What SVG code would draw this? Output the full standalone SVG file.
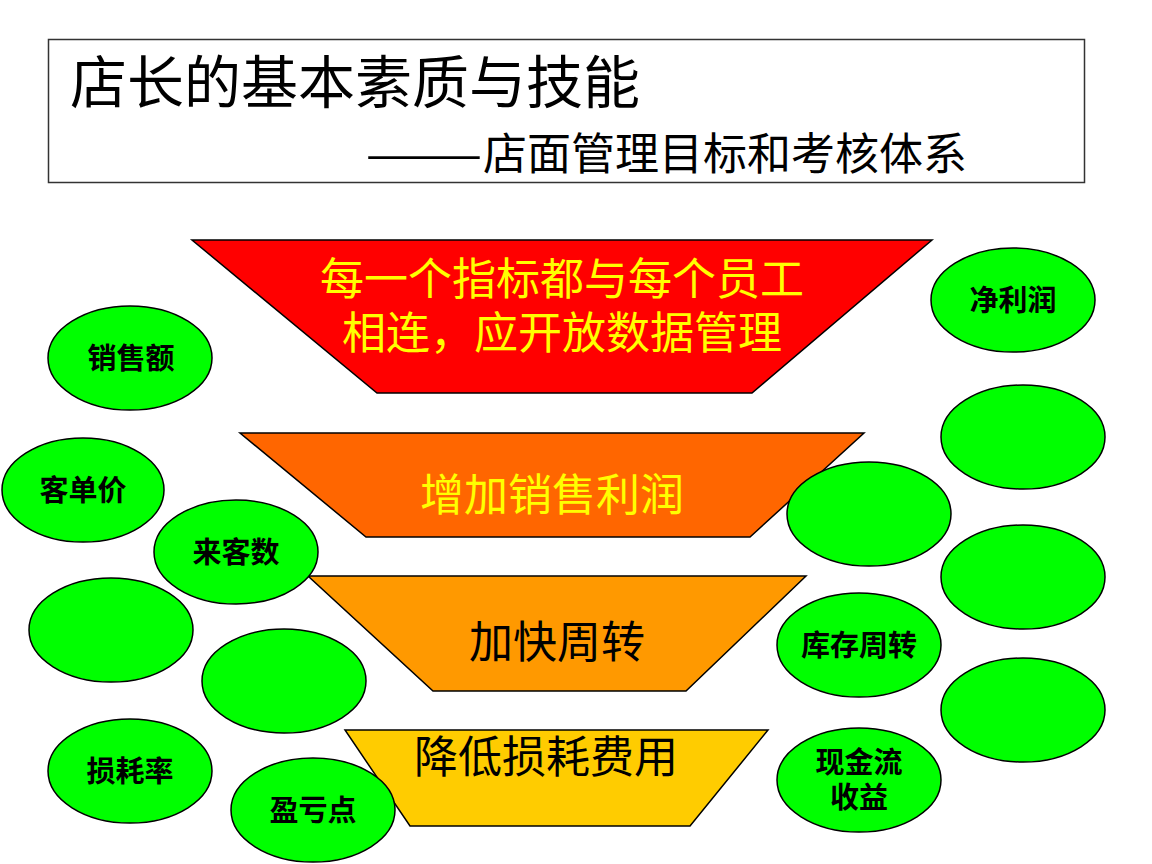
<svg xmlns="http://www.w3.org/2000/svg" width="1152" height="864" viewBox="0 0 1152 864">
<style>
text{font-family:"Noto Sans CJK SC","Liberation Sans",sans-serif;text-anchor:middle}
.tr{stroke:#000;stroke-width:1.5}
.el{fill:#00FF00;stroke:#000;stroke-width:1.5}
.et{font-size:29px;font-weight:bold;fill:#000}
.yt{fill:#FFFF00;font-size:44px}
.bt{fill:#000;font-size:44px}
</style>
<rect width="1152" height="864" fill="#fff"/>
<g id="title">
<rect x="48.5" y="39.5" width="1036" height="143" fill="#fff" stroke="#333" stroke-width="1.5"/>
<text x="70" y="103" style="text-anchor:start;font-size:57px" fill="#000">店长的基本素质与技能</text>
<text x="365" y="170" style="text-anchor:start;font-size:44px" fill="#000"><tspan textLength="118" lengthAdjust="spacingAndGlyphs">——</tspan>店面管理目标和考核体系</text>
</g>
<g id="funnel1">
<polygon class="tr" points="192,240 932,240 752,393 377,393" fill="#FF0000"/>
<text class="yt" x="562" y="295"><tspan x="562">每一个指标都与每个员工</tspan><tspan x="562" dy="54">相连，应开放数据管理</tspan></text>
</g>
<g id="funnel2">
<polygon class="tr" points="240,433 864,433 750,537 366,537" fill="#FF6600"/>
<text class="yt" x="552" y="511">增加销售利润</text>
</g>
<g id="funnel3">
<polygon class="tr" points="308,576 806,576 686,691 433,691" fill="#FF9900"/>
<text class="bt" x="557" y="658">加快周转</text>
</g>
<g id="funnel4">
<polygon class="tr" points="345,730 768,730 690,826 410,826" fill="#FFCC00"/>
<text class="bt" x="546" y="773">降低损耗费用</text>
</g>
<g id="n-sales"><ellipse class="el" cx="130" cy="358" rx="82" ry="52"/><text class="et" x="131" y="369">销售额</text></g>
<g id="n-price"><ellipse class="el" cx="83" cy="490" rx="81" ry="52"/><text class="et" x="83" y="501">客单价</text></g>
<g id="n-visitors"><ellipse class="el" cx="236" cy="552" rx="82" ry="52"/><text class="et" x="236" y="563">来客数</text></g>
<g id="n-blank-l1"><ellipse class="el" cx="111" cy="630" rx="82" ry="52"/></g>
<g id="n-blank-l2"><ellipse class="el" cx="284" cy="681" rx="82" ry="52"/></g>
<g id="n-loss"><ellipse class="el" cx="130" cy="771" rx="82" ry="52"/><text class="et" x="130" y="782">损耗率</text></g>
<g id="n-breakeven"><ellipse class="el" cx="313" cy="810" rx="82" ry="52"/><text class="et" x="313" y="821">盈亏点</text></g>
<g id="n-profit"><ellipse class="el" cx="1013" cy="300" rx="82" ry="52"/><text class="et" x="1013" y="311">净利润</text></g>
<g id="n-blank-r1"><ellipse class="el" cx="1023" cy="437" rx="82" ry="52"/></g>
<g id="n-blank-r2"><ellipse class="el" cx="869" cy="514" rx="82" ry="52"/></g>
<g id="n-blank-r3"><ellipse class="el" cx="1023" cy="577" rx="82" ry="52"/></g>
<g id="n-inventory"><ellipse class="el" cx="859" cy="645" rx="82" ry="52"/><text class="et" x="859" y="656">库存周转</text></g>
<g id="n-blank-r4"><ellipse class="el" cx="1023" cy="710" rx="82" ry="52"/></g>
<g id="n-cash"><ellipse class="el" cx="859" cy="780" rx="82" ry="52"/><text class="et" x="859" y="773"><tspan x="859">现金流</tspan><tspan x="859" dy="35">收益</tspan></text></g>
<g id="connectors"></g>
</svg>
